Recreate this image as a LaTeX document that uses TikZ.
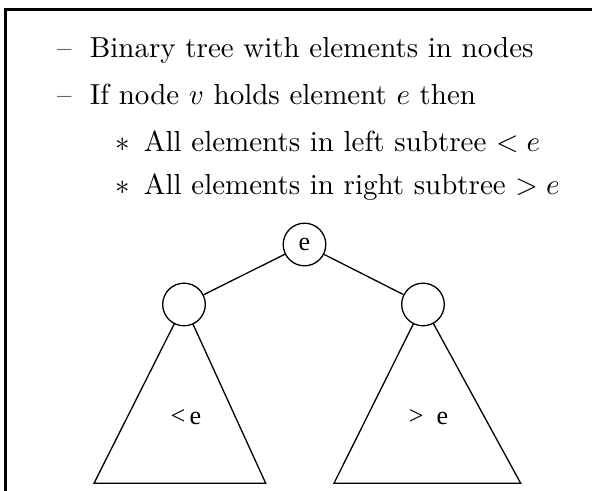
\documentclass[tikz,border=0pt]{standalone}
\usepackage{fontspec}
\newfontfamily\tnrfont{Liberation Serif}
\begin{document}
\begin{tikzpicture}[x=0.345pt,y=-0.345pt,
  txt/.style={anchor=base west,inner sep=0pt,font=\fontsize{10}{12}\selectfont},
  tnode/.style={circle,draw,fill=white,line width=0.45pt,minimum size=14.7pt,inner sep=0pt,font={\fontsize{9}{10}\tnrfont}},
  tlabel/.style={anchor=base,inner sep=0pt,font={\fontsize{9}{10}\tnrfont}},
  tline/.style={line width=0.45pt},
  frame/.style={line width=1.05pt}]
\useasboundingbox (0,0) rectangle (592,491);
% frame (left and top edges)
\coordinate (fbl) at (5.3,491);
\coordinate (ftl) at (5.3,9.5);
\coordinate (ftr) at (592,9.5);
\draw[frame] (fbl) -- (ftl) -- (ftr);
% text lines
\node[txt] (d1) at (56.5,58) {\textendash};
\node[txt] (t1) at (89.3,58) {Binary tree with elements in nodes};
\node[txt] (d2) at (56.5,105) {\textendash};
\node[txt] (t2) at (89.3,105) {If node $v$ holds element $e$ then};
\node[txt] (s3) at (115,152) {$\ast$};
\node[txt] (t3) at (143.3,152) {All elements in left subtree $<e$};
\node[txt] (s4) at (115,195) {$\ast$};
\node[txt] (t4) at (143.3,195) {All elements in right subtree $>e$};
% tree geometry
\coordinate (lc) at (184,304.5);
\coordinate (rc) at (423,304.5);
\coordinate (lbl) at (94,483.3);
\coordinate (lbr) at (265.7,483.3);
\coordinate (rbl) at (334,483.3);
\coordinate (rbr) at (520.7,483.3);
\draw[tline] (lc) -- (lbl) -- (lbr) -- cycle;
\draw[tline] (rc) -- (rbl) -- (rbr) -- cycle;
\node[tnode] (root) at (304.5,244.5) {e};
\node[tnode] (left) at (lc) {};
\node[tnode] (right) at (rc) {};
\draw[tline] (root) -- (left);
\draw[tline] (root) -- (right);
\node[tlabel] (ll) at (186,425) {<\,e};
\node[tlabel] (rl) at (428.5,425) {>\ \ e};
\end{tikzpicture}
\end{document}
